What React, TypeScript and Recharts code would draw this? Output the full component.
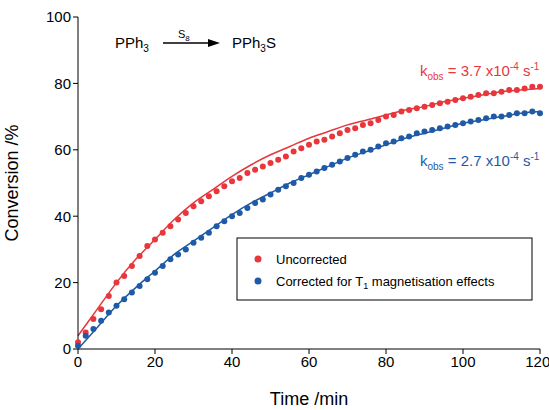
import { ComposedChart, Scatter, Line, XAxis, YAxis, Label } from 'recharts'

const RED = '#e8373c'
const BLUE = '#1f5aa6'

const sampleTimes = Array.from({ length: 61 }, (_, i) => i * 2)
const uncorrected = [2, 5, 9, 12, 16, 20, 22, 25, 28, 31, 33, 35, 37, 39, 41, 43, 44.5, 46, 47.5, 49, 50.5, 51.5, 53, 54, 55, 56, 57, 58, 59.5, 60.5, 61.5, 62.5, 63, 64, 65, 66, 66.5, 67.5, 68, 69, 70, 70.5, 71.5, 72, 72.5, 73, 73.5, 74, 74.5, 75, 75.5, 76, 76.5, 77, 77, 77.5, 78, 78, 78.5, 79, 79]
const corrected = [1, 4, 6, 8.5, 11, 13, 15, 17, 19, 21, 23, 25, 27, 28.5, 30, 32, 33.5, 35, 37, 38.5, 40, 41, 42.5, 44, 45, 46.5, 48, 49, 50, 51.5, 52.5, 53.5, 54.5, 55.5, 56.5, 57.5, 58.5, 59.5, 60, 61, 62, 62.5, 63.5, 64, 65, 65.5, 66, 66.5, 67, 67.5, 68, 68.5, 69, 69.5, 70, 70, 70.5, 71, 71, 71.5, 71]

const fitTimes = [0, 5, 10, 15, 20, 25, 30, 35, 40, 45, 50, 55, 60, 65, 70, 75, 80, 85, 90, 95, 100, 105, 110, 115, 120]
const fitUncorrected = [4, 12, 20, 27, 33, 39, 44, 48, 52, 55.5, 58.5, 61, 63.5, 65.5, 67.5, 69, 70.5, 72, 73, 74.5, 75.5, 76.5, 77.5, 78, 78.5]
const fitCorrected = [0, 6.5, 13, 18.5, 23.5, 28.5, 32.5, 36.5, 40.5, 44, 47, 50, 52.5, 55, 57.5, 59.5, 61.5, 63.5, 65, 66.5, 68, 69, 70, 71, 71.5]

const xTicks = [0, 20, 40, 60, 80, 100, 120]
const yTicks = [0, 20, 40, 60, 80, 100]

const redPts = sampleTimes.map((t, i) => ({ t, y: uncorrected[i] }))
const bluePts = sampleTimes.map((t, i) => ({ t, y: corrected[i] }))
const redFit = fitTimes.map((t, i) => ({ t, y: fitUncorrected[i] }))
const blueFit = fitTimes.map((t, i) => ({ t, y: fitCorrected[i] }))

const font = 'Liberation Sans, Arial, sans-serif'
const tick = { fill: '#000', fontSize: 15, fontFamily: font }

export default function App() {
  return (
    <div style={{ position: 'absolute', left: 0, top: 0, width: 549, height: 410, background: '#fff', fontFamily: font }}>
      <ComposedChart width={549} height={410} margin={{ top: 17, right: 9, bottom: 31, left: 28 }}>
        <XAxis type="number" dataKey="t" domain={[0, 120]} ticks={xTicks} allowDuplicatedCategory={false}
          stroke="#000" tick={tick} tickSize={5}>
          <Label value="Time /min" position="insideBottom" offset={-26} style={{ fontSize: 18, fill: '#000', fontFamily: font }} />
        </XAxis>
        <YAxis type="number" dataKey="y" domain={[0, 100]} ticks={yTicks} width={50} stroke="#000" tick={tick} tickSize={5}>
          <Label value="Conversion /%" angle={-90} position="insideLeft" offset={-16} style={{ fontSize: 18, fill: '#000', fontFamily: font, textAnchor: 'middle' }} />
        </YAxis>
        <Line data={redFit} dataKey="y" type="monotone" stroke={RED} strokeWidth={1.5} dot={false} isAnimationActive={false} />
        <Line data={blueFit} dataKey="y" type="monotone" stroke={BLUE} strokeWidth={1.5} dot={false} isAnimationActive={false} />
        <Scatter data={redPts} dataKey="y" fill={RED} shape={(p: any) => <circle cx={p.cx} cy={p.cy} r={3} fill={RED} />} isAnimationActive={false} />
        <Scatter data={bluePts} dataKey="y" fill={BLUE} shape={(p: any) => <circle cx={p.cx} cy={p.cy} r={3} fill={BLUE} />} isAnimationActive={false} />
      </ComposedChart>
      <svg width={549} height={410} style={{ position: 'absolute', left: 0, top: 0, pointerEvents: 'none' }} fontFamily={font}>
        <text x={115} y={48} fontSize={15}>PPh<tspan fontSize={10} dy={4}>3</tspan></text>
        <text x={178} y={38} fontSize={11}>S<tspan fontSize={8} dy={3}>8</tspan></text>
        <line x1={163} y1={43} x2={210} y2={43} stroke="#000" strokeWidth={1.3} />
        <path d="M220,43 L208,39 L208,47 Z" fill="#000" />
        <text x={232} y={48} fontSize={15}>PPh<tspan fontSize={10} dy={4}>3</tspan><tspan dy={-4}>S</tspan></text>
        <text x={420} y={76} fontSize={15} fill={RED}>k<tspan fontSize={10} dy={4}>obs</tspan><tspan dy={-4}> = 3.7 x10</tspan><tspan fontSize={10} dy={-6}>-4</tspan><tspan dy={6}> s</tspan><tspan fontSize={10} dy={-6}>-1</tspan></text>
        <text x={420} y={166} fontSize={15} fill={BLUE}>k<tspan fontSize={10} dy={4}>obs</tspan><tspan dy={-4}> = 2.7 x10</tspan><tspan fontSize={10} dy={-6}>-4</tspan><tspan dy={6}> s</tspan><tspan fontSize={10} dy={-6}>-1</tspan></text>
        <rect x={237} y={238} width={295} height={62} fill="#fff" stroke="#000" strokeWidth={1} />
        <circle cx={258} cy={259} r={3.5} fill={RED} />
        <text x={276} y={264} fontSize={13}>Uncorrected</text>
        <circle cx={258} cy={281} r={3.5} fill={BLUE} />
        <text x={276} y={286} fontSize={13}>Corrected for T<tspan fontSize={9} dy={3}>1</tspan><tspan dy={-3}> magnetisation effects</tspan></text>
      </svg>
    </div>
  )
}
